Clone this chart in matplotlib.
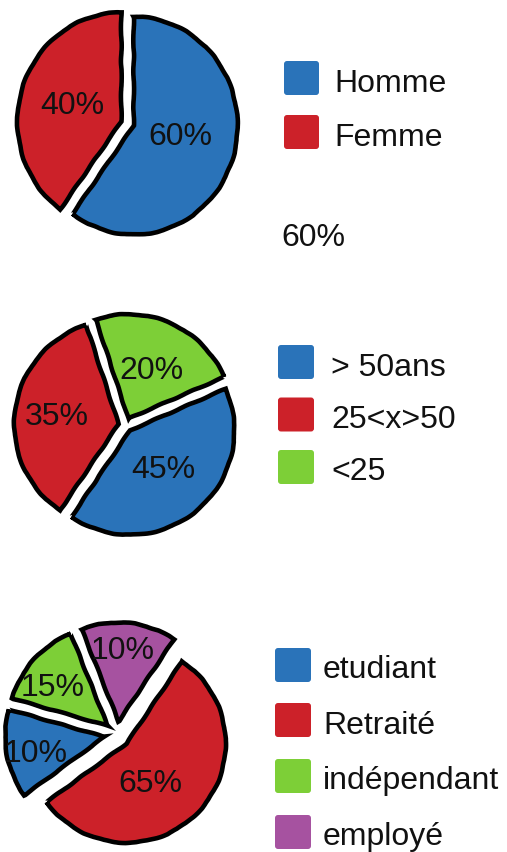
import matplotlib
matplotlib.use("Agg")
import matplotlib.pyplot as plt
import numpy as np
from matplotlib.patches import FancyBboxPatch

plt.rcParams['font.family'] = ['Liberation Sans', 'DejaVu Sans']

W, H, DPI = 507, 852, 100

# ---------------- data ----------------
genre_labels = ["Homme", "Femme"]
genre_pct = [60, 40]            # values printed on the slices
genre_share = [60, 40]          # slice sizes as drawn

age_labels = ["> 50ans", "25<x>50", "<25"]
age_pct = [45, 35, 20]
age_share = [41, 35.5, 23.5]

statut_labels = ["etudiant", "Retraité", "indépendant", "employé"]
statut_pct = [10, 65, 15, 10]
statut_share = [14.5, 55.5, 14.5, 15.5]

stray_text = "60%"

BLUE, RED, GREEN, PURPLE = "#2a73b9", "#cc2129", "#7dcf37", "#a652a0"
genre_colors = [BLUE, RED]
age_colors = [BLUE, RED, GREEN]
statut_colors = [BLUE, RED, GREEN, PURPLE]

fig = plt.figure(figsize=(W / DPI, H / DPI), dpi=DPI)
fig.patch.set_facecolor("white")

PCT_FS = 23
LEG_FS = 23


def draw_pie(cx, cy, rx, ry, shares, pct, colors, order, start, explode,
             pctdist, pctrot):
    R = 1.4
    ax = fig.add_axes([(cx - R * rx) / W, (H - cy - R * ry) / H,
                       2 * R * rx / W, 2 * R * ry / H])
    vals = [shares[i] for i in order]
    cols = [colors[i] for i in order]
    wedges, _ = ax.pie(vals, colors=cols, startangle=start, counterclock=False,
                       explode=[explode] * len(vals), radius=1,
                       wedgeprops=dict(edgecolor="black", linewidth=3.3))
    ax.set_aspect("auto")
    ax.set_xlim(-R, R)
    ax.set_ylim(-R, R)
    ax.axis("off")
    for w, i in zip(wedges, order):
        w.set_sketch_params(scale=0.4, length=40, randomness=2)
        th = np.deg2rad((w.theta1 + w.theta2) / 2 + pctrot[i])
        x0, y0 = w.center
        d = pctdist[i]
        ax.text(x0 + d * np.cos(th), y0 + d * np.sin(th), f"{pct[i]}%",
                ha="center", va="center_baseline", fontsize=PCT_FS, color="#111111")
    return ax


draw_pie(127.5, 123.5, 104, 109, genre_share, genre_pct, genre_colors,
         [0, 1], 90, 0.0625, [0.45, 0.5], [9, -2])
draw_pie(125.5, 425, 104.4, 104.4, age_share, age_pct, age_colors,
         [0, 1, 2], 23.5, 0.067, [0.47, 0.6, 0.54], [3, -2, 0])
draw_pie(117.2, 734.5, 99.2, 99.2, statut_share, statut_pct, statut_colors,
         [1, 0, 2, 3], 56, 0.131, [0.71, 0.44, 0.69, 0.75], [1, -13, 5, 3])

# ---------------- legends (pixel overlay) ----------------
ov = fig.add_axes([0, 0, 1, 1])
ov.set_xlim(0, W)
ov.set_ylim(H, 0)
ov.axis("off")


def draw_legend(labels, colors, x, tops, size, tx):
    for lab, c, t in zip(labels, colors, tops):
        ov.add_patch(FancyBboxPatch((x, t), size[0], size[1],
                                    boxstyle="round,pad=0,rounding_size=3",
                                    facecolor=c, edgecolor="none"))
        ov.text(tx, t + size[1] / 2 + 2, lab, ha="left", va="center_baseline",
                fontsize=LEG_FS, color="#111111")


draw_legend(genre_labels, genre_colors, 284, [61, 115], (35, 34), 334)
draw_legend(age_labels, age_colors, 278, [345, 397.5, 450], (36, 34), 331)
draw_legend(statut_labels, statut_colors, 275, [648, 703, 759, 815], (36, 34), 323)

ov.text(281, 234, stray_text, ha="left", va="center_baseline",
        fontsize=LEG_FS, color="#111111")

fig.savefig("out.png", dpi=DPI, facecolor="white")
